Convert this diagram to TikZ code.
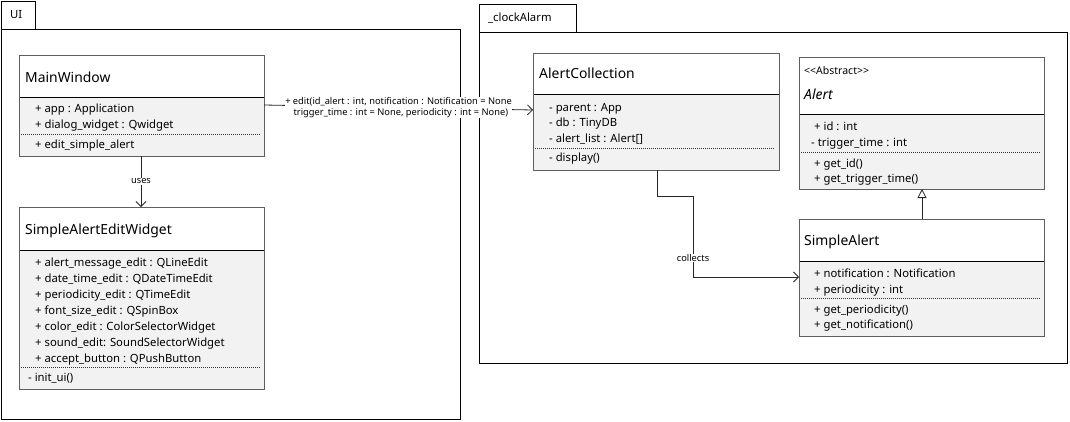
\documentclass[tikz,border=0pt]{standalone}
\usepackage{fontspec}
\setmainfont{Noto Sans}
\usetikzlibrary{fit,arrows.meta}
\definecolor{boxgray}{RGB}{95,95,95}
\definecolor{attrfill}{RGB}{242,242,242}
\tikzset{
  pkg/.style={draw=black, line width=0.9pt},
  clsframe/.style={draw=boxgray, line width=1pt, inner sep=0pt},
  namefont/.style={font=\fontsize{13.9}{16}\selectfont, anchor=base west, inner sep=0pt},
  attr/.style={font=\fontsize{11.3}{13}\selectfont, anchor=base west, inner sep=0pt},
  small/.style={font=\fontsize{9.3}{11}\selectfont, inner sep=1pt},
  sep/.style={draw=black!80, line width=0.6pt, dash pattern=on 1pt off 1pt},
  conn/.style={draw=black!85, line width=0.8pt},
  openarrow/.style={conn, -{Straight Barb[length=5pt,width=10pt,line width=0.8pt]}},
  genarrow/.style={conn, -{Triangle[open, length=9pt, width=9pt, line width=0.8pt, fill=white]}},
}
% \umlclass{name}{x1}{y1}{x2}{ydiv}{y2}
\newcommand{\umlclass}[6]{%
  \fill[white] (#2,#3) rectangle (#4,#5);
  \fill[attrfill] (#2,#5) rectangle (#4,#6);
  \draw[black, line width=0.8pt] (#2,#5) -- (#4,#5);
  \node[clsframe, fit={(#2,#3)(#4,#6)}] (#1) {};
}
\begin{document}
\begin{tikzpicture}[x=1pt,y=-1pt]
\useasboundingbox (0,0) rectangle (1070,421);
\fill[white] (0,0) rectangle (1070,421);

% packages
\draw[pkg] (1,1) rectangle (35,29);
\node[attr, anchor=west] (uitab) at (10,15) {UI};
\draw[pkg] (1,29) rectangle (460,419);
\draw[pkg] (479,4) rectangle (576,32);
\node[attr, anchor=west] (catab) at (488,18) {\_clockAlarm};
\draw[pkg] (479,32) rectangle (1067,363);

% MainWindow
\umlclass{mw}{19}{55}{264}{97}{156}
\node[namefont] (mwn) at (25,82) {MainWindow};
\node[attr] (mw1) at (35,112) {+ app : Application};
\node[attr] (mw2) at (35,128) {+ dialog\_widget : Qwidget};
\draw[sep] (21,134) -- (260,134);
\node[attr] (mw3) at (35,148) {+ edit\_simple\_alert};

% SimpleAlertEditWidget
\umlclass{sa}{19}{207}{264}{250}{389}
\node[namefont] (san) at (25,234) {SimpleAlertEditWidget};
\node[attr] at (35,266) {+ alert\_message\_edit : QLineEdit};
\node[attr] at (35,282) {+ date\_time\_edit : QDateTimeEdit};
\node[attr] at (35,298) {+ periodicity\_edit : QTimeEdit};
\node[attr] at (35,314) {+ font\_size\_edit : QSpinBox};
\node[attr] at (35,330) {+ color\_edit : ColorSelectorWidget};
\node[attr] at (35,346) {+ sound\_edit: SoundSelectorWidget};
\node[attr] at (35,362) {+ accept\_button : QPushButton};
\draw[sep] (21,367) -- (260,367);
\node[attr] at (28,381) {- init\_ui()};

% AlertCollection
\umlclass{ac}{533}{53}{779}{94}{170}
\node[namefont] (acn) at (539,78) {AlertCollection};
\node[attr] at (549,111) {- parent : App};
\node[attr] at (549,126) {- db : TinyDB};
\node[attr] at (549,142) {- alert\_list : Alert[]};
\draw[sep] (535,148) -- (775,148);
\node[attr] at (549,161) {- display()};

% Alert
\umlclass{al}{799}{57}{1044}{114}{189}
\node[small, anchor=base west, inner sep=0pt, font=\fontsize{10.5}{12}\selectfont] (abs) at (804,74) {{<}{<}Abstract{>}{>}};
\node[namefont, font=\fontsize{13.9}{16}\selectfont\itshape] (aln) at (804,99) {Alert};
\node[attr] at (814,130) {+ id : int};
\node[attr] at (811,146) {- trigger\_time : int};
\draw[sep] (801,152) -- (1040,152);
\node[attr] at (814,167) {+ get\_id()};
\node[attr] at (814,182) {+ get\_trigger\_time()};

% SimpleAlert
\umlclass{sl}{799}{219}{1044}{261}{336}
\node[namefont] (sln) at (804,245) {SimpleAlert};
\node[attr] at (814,277) {+ notification : Notification};
\node[attr] at (814,293) {+ periodicity : int};
\draw[sep] (801,298) -- (1040,298);
\node[attr] at (814,313) {+ get\_periodicity()};
\node[attr] at (814,328) {+ get\_notification()};

% connectors
\coordinate (mwr) at (264,105);
\coordinate (acl) at (533,110);
\draw[openarrow] (mwr) -- (acl)
  node[small, pos=0.5, fill=white, align=left, inner sep=0.5pt] (editlbl)
  {+ edit(id\_alert : int, notification : Notification = None\\
  \hspace*{0.9em}trigger\_time : int = None, periodicity : int = None)};

\coordinate (mwb) at (141,156);
\coordinate (sat) at (141,207);
\draw[openarrow] (mwb) -- (sat)
  node[small, pos=0.5, fill=white, inner sep=0.5pt] (uses) {uses};

\coordinate (acb) at (657,170);
\coordinate (sll) at (799,277);
\draw[openarrow] (acb) -- (657,196) -- (693,196) -- (693,277) -- (sll);
\node[small, fill=white, inner sep=0.5pt] (coll) at (693,258) {collects};

\coordinate (slt) at (922,219);
\coordinate (alb) at (922,189);
\draw[genarrow] (slt) -- (alb);
\end{tikzpicture}
\end{document}
